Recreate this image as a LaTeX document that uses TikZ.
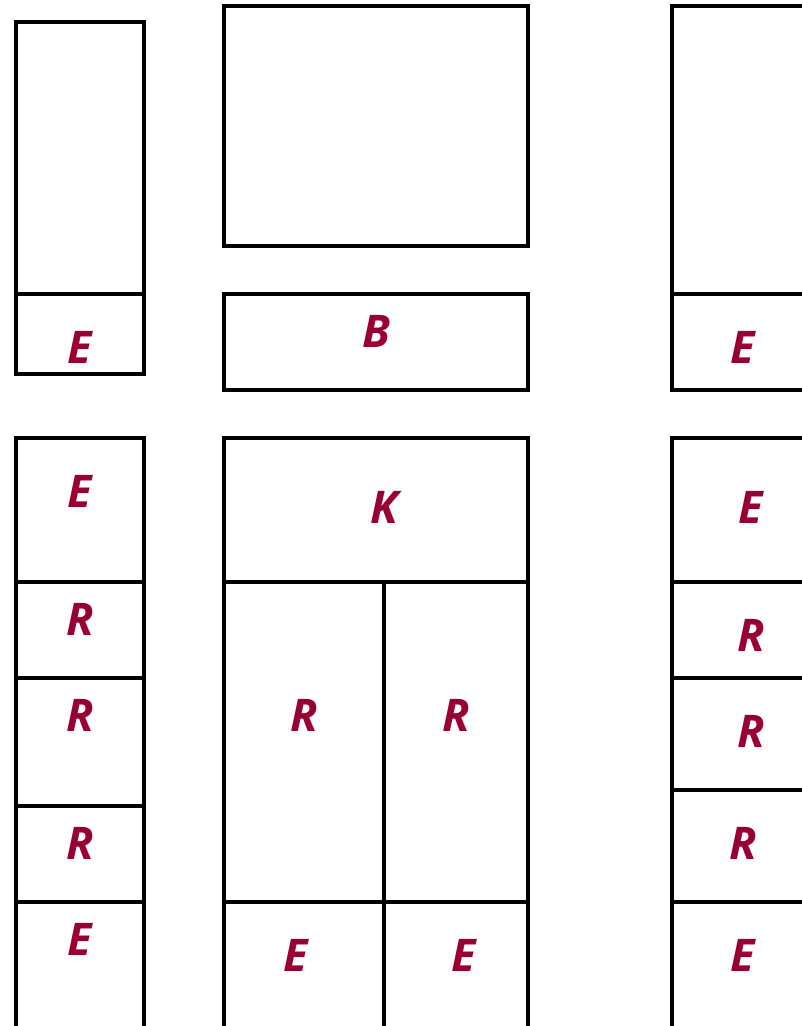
\documentclass[tikz,border=0pt]{standalone}
\usepackage{fontspec}
\setmainfont{Open Sans}
\definecolor{lbl}{HTML}{990033}
\begin{document}
\begin{tikzpicture}[x=1pt,y=-1pt,
  box/.style={draw=black,line width=3.1pt},
  lab/.style={text=lbl,font=\fontsize{45}{45}\selectfont\bfseries\itshape,inner sep=0pt,anchor=center}]
\useasboundingbox (0,0) rectangle (802,1026);
\clip (0,0) rectangle (802,1026);
% left column
\draw[box] (16,22) rectangle (144,294);
\draw[box] (16,294) rectangle (144,374);
\draw[box] (16,438) rectangle (144,1040);
\draw[box] (16,582) -- (144,582);
\draw[box] (16,678) -- (144,678);
\draw[box] (16,806) -- (144,806);
\draw[box] (16,902) -- (144,902);
\node[lab] (l1) at (80,347) {E};
\node[lab] (l2) at (80,491) {E};
\node[lab] (l3) at (80,619) {R};
\node[lab] (l4) at (80,715) {R};
\node[lab] (l5) at (80,843) {R};
\node[lab] (l6) at (80,939) {E};
% middle column
\draw[box] (224,6) rectangle (528,246);
\draw[box] (224,294) rectangle (528,390);
\draw[box] (224,438) rectangle (528,1040);
\draw[box] (224,582) -- (528,582);
\draw[box] (384,582) -- (384,1040);
\draw[box] (224,902) -- (528,902);
\node[lab] (m1) at (376,331) {B};
\node[lab] (m2) at (384,507) {K};
\node[lab] (m3) at (304,715) {R};
\node[lab] (m4) at (456,715) {R};
\node[lab] (m5) at (296,955) {E};
\node[lab] (m6) at (464,955) {E};
% right column
\draw[box] (672,6) rectangle (820,294);
\draw[box] (672,294) rectangle (820,390);
\draw[box] (672,438) rectangle (820,1040);
\draw[box] (672,582) -- (820,582);
\draw[box] (672,678) -- (820,678);
\draw[box] (672,790) -- (820,790);
\draw[box] (672,902) -- (820,902);
\node[lab] (r1) at (743,347) {E};
\node[lab] (r2) at (751,507) {E};
\node[lab] (r3) at (751,635) {R};
\node[lab] (r4) at (751,731) {R};
\node[lab] (r5) at (743,843) {R};
\node[lab] (r6) at (743,955) {E};
\end{tikzpicture}
\end{document}
